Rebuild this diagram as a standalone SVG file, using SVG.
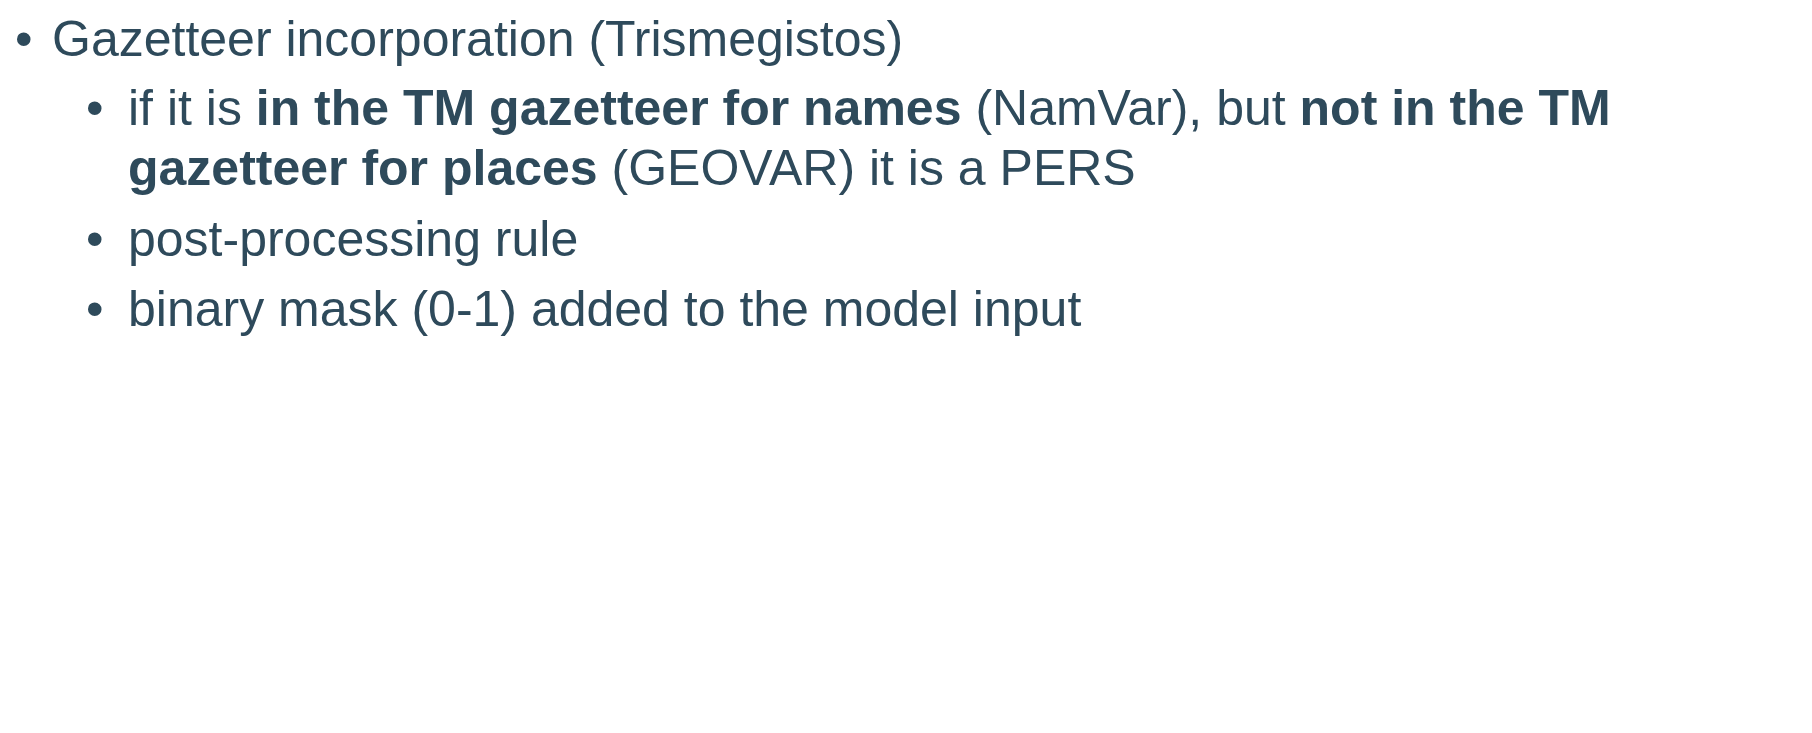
<svg xmlns="http://www.w3.org/2000/svg" width="1812" height="733" viewBox="0 0 1812 733">
<style>
text{font-family:"Liberation Sans",Arial,sans-serif;fill:#2e4a5b;font-size:50px}
.b{font-weight:bold}
</style>
<rect width="1812" height="733" fill="#ffffff"/>
<g id="item1">
<text x="15" y="56">•</text>
<text x="52" y="56">Gazetteer incorporation (Trismegistos)</text>
</g>
<g id="item1-1">
<text x="86" y="125">•</text>
<text x="128" y="125">if it is <tspan class="b">in the TM gazetteer for names</tspan> (NamVar), but <tspan class="b">not in the TM</tspan></text>
<text x="128" y="185"><tspan class="b">gazetteer for places</tspan> (GEOVAR) it is a PERS</text>
</g>
<g id="item1-2">
<text x="86" y="256">•</text>
<text x="128" y="256">post-processing rule</text>
</g>
<g id="item1-3">
<text x="86" y="326">•</text>
<text x="128" y="326">binary mask (0-1) added to the model input</text>
</g>
</svg>
